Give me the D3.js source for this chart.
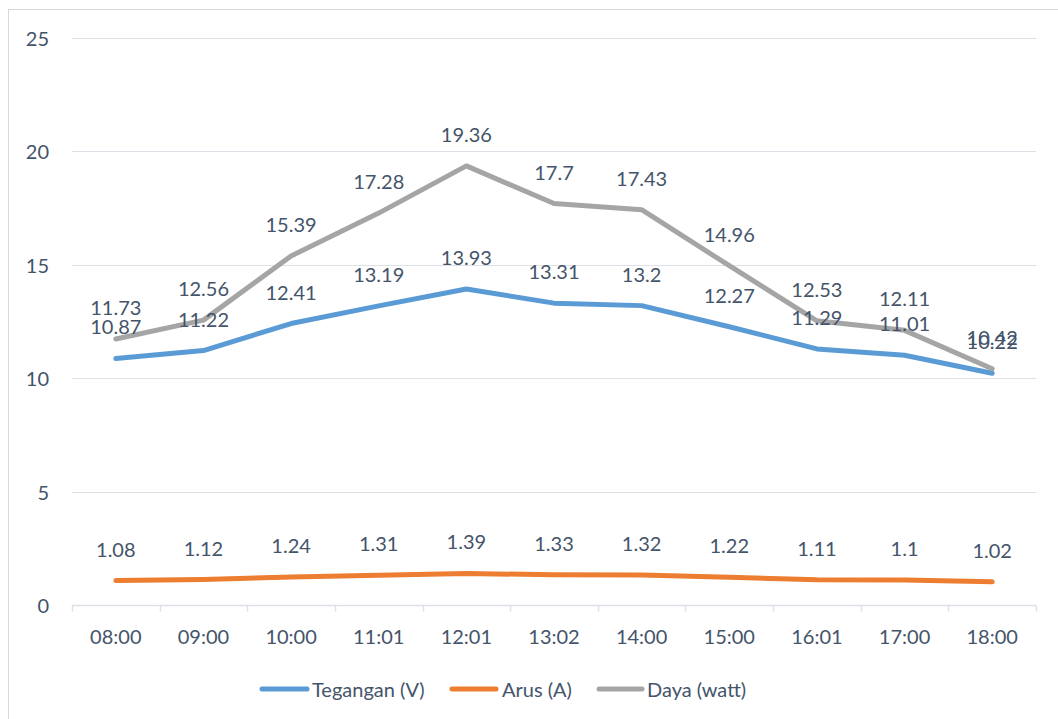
<!DOCTYPE html>
<html><head><meta charset="utf-8">
<script src="https://cdn.jsdelivr.net/npm/d3@7"></script>
<style>body{margin:0;background:#fff}svg{display:block;font-family:Lato,"Open Sans",sans-serif}</style>
</head><body><svg id="c" width="1058" height="719"></svg>
<script>
const categories = ["08:00","09:00","10:00","11:01","12:01","13:02","14:00","15:00","16:01","17:00","18:00"];
const tegangan = [10.87,11.22,12.41,13.19,13.93,13.31,13.2,12.27,11.29,11.01,10.22];
const arus = [1.08,1.12,1.24,1.31,1.39,1.33,1.32,1.22,1.11,1.1,1.02];
const daya = [11.73,12.56,15.39,17.28,19.36,17.7,17.43,14.96,12.53,12.11,10.42];
const yTicks = [0,5,10,15,20,25];
const seriesNames = ["Tegangan (V)","Arus (A)","Daya (watt)"];

const series = [
  {name: seriesNames[0], values: tegangan, color: "#5B9BD5"},
  {name: seriesNames[1], values: arus, color: "#ED7D31"},
  {name: seriesNames[2], values: daya, color: "#A5A5A5"}
];
const textColor = "#44546A";
const gridColor = "#DDE1E7";

const svg = d3.select("#c");
svg.append("rect").attr("x",8.5).attr("y",9.5).attr("width",1200).attr("height",900)
  .attr("fill","#fff").attr("stroke","#D9D9D9").attr("stroke-width",1);

const x = d3.scaleBand().domain(categories).range([72,1036]);
const y = d3.scaleLinear().domain([0,25]).range([605,38]);

// gridlines
svg.append("g").selectAll("line").data(yTicks.filter(d=>d>0)).join("line")
  .attr("x1",72).attr("x2",1036)
  .attr("y1",d=>Math.round(y(d))+0.5).attr("y2",d=>Math.round(y(d))+0.5)
  .attr("stroke",gridColor).attr("stroke-width",1.2);

// y labels
svg.append("g").selectAll("text").data(yTicks).join("text")
  .attr("x",49).attr("y",d=>y(d)).attr("text-anchor","end").attr("dominant-baseline","central")
  .attr("fill",textColor).attr("font-size",20).text(d=>d);

// x axis
const xAxis = svg.append("g").attr("transform","translate(0,605.5)");
xAxis.append("line").attr("x1",72).attr("x2",1036).attr("stroke",gridColor).attr("stroke-width",1.5);
const bounds = categories.map(c=>x(c)).concat([x.range()[1]]);
xAxis.selectAll("line.t").data(bounds).join("line").attr("class","t")
  .attr("x1",d=>Math.round(d)+0.5).attr("x2",d=>Math.round(d)+0.5).attr("y1",0).attr("y2",6)
  .attr("stroke",gridColor).attr("stroke-width",1.5);
svg.append("g").selectAll("text").data(categories).join("text")
  .attr("x",d=>x(d)+x.bandwidth()/2).attr("y",636).attr("text-anchor","middle").attr("dominant-baseline","central")
  .attr("fill",textColor).attr("font-size",20).text(d=>d);

const cx = (d,i)=>x(categories[i])+x.bandwidth()/2;
const line = d3.line().x((d,i)=>cx(d,i)).y(d=>y(d));

series.forEach(s=>{
  svg.append("path").datum(s.values).attr("d",line).attr("fill","none")
    .attr("stroke",s.color).attr("stroke-width",5).attr("stroke-linecap","round").attr("stroke-linejoin","round");
});
series.forEach(s=>{
  svg.append("g").selectAll("text").data(s.values).join("text")
    .attr("x",(d,i)=>cx(d,i)).attr("y",d=>y(d)-32).attr("text-anchor","middle").attr("dominant-baseline","central")
    .attr("fill",textColor).attr("font-size",20).text(d=>d);
});

// legend
const legendItems = [
  {x1:260,x2:309,tx:312},
  {x1:450,x2:498,tx:502},
  {x1:597,x2:644,tx:647}
];
const lg = svg.append("g");
series.forEach((s,i)=>{
  const p = legendItems[i];
  lg.append("line").attr("x1",p.x1+2).attr("x2",p.x2-2).attr("y1",689).attr("y2",689)
    .attr("stroke",s.color).attr("stroke-width",5).attr("stroke-linecap","round");
  lg.append("text").attr("x",p.tx).attr("y",689).attr("dominant-baseline","central")
    .attr("fill",textColor).attr("font-size",20).text(s.name);
});
</script></body></html>
